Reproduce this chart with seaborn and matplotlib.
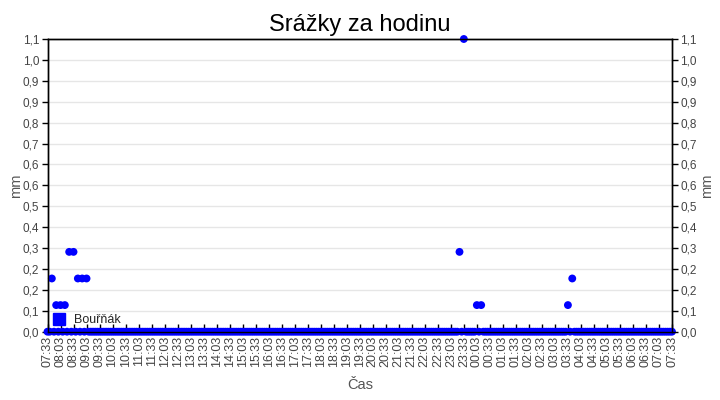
import matplotlib
matplotlib.use("Agg")
import matplotlib.pyplot as plt
from matplotlib.lines import Line2D
import matplotlib.dates as mdates
import numpy as np
import pandas as pd
import seaborn as sns

# ---- data ----
start_time = "2024-01-01 07:33"
end_time = "2024-01-02 07:33"
step = "5min"
series_label = "Bouřňák"
# non-zero readings (mm); every other 5-minute reading is 0.0
rain_times = ["07:43", "07:53", "08:03", "08:13", "08:23", "08:33", "08:43", "08:53", "09:03",
              "23:23", "23:33", "00:03", "00:13", "03:33", "03:43"]
rain_values = [0.2, 0.1, 0.1, 0.1, 0.3, 0.3, 0.2, 0.2, 0.2,
               0.3, 1.1, 0.1, 0.1, 0.1, 0.2]
y_max = 1.1
title = "Srážky za hodinu"
x_label = "Čas"
y_label = "mm"

times = pd.date_range(start_time, end_time, freq=step)
values = pd.Series(0.0, index=times)
for t, v in zip(rain_times, rain_values):
    match = [ts for ts in times if ts.strftime("%H:%M") == t]
    values[match[0]] = v
df = pd.DataFrame({"time": times, "mm": values.values})

sns.set_theme(style="white")
plt.rcParams["font.family"] = ["Liberation Sans", "DejaVu Sans"]

fig = plt.figure(figsize=(7.2, 4.0), dpi=100)
ax = fig.add_axes([47.5 / 720, 1 - 331.7 / 400, (672 - 47.5) / 720, (331.7 - 39) / 400])

sns.scatterplot(data=df, x="time", y="mm", ax=ax, color="#0000FF", s=32,
                edgecolor="none", linewidth=0, clip_on=False, zorder=5)

ax.set_xlim(times[0], times[-1])
ax.set_ylim(0, y_max)
yt = np.linspace(0, y_max, 15)
ylabels = [f"{v:.1f}".replace(".", ",") for v in yt]
ax.set_yticks(yt)
ax.set_yticklabels(ylabels)
ax.yaxis.grid(True, color="#e6e6e6", linewidth=1)
ax.xaxis.grid(False)

ax.set_xticks(pd.date_range(start_time, end_time, freq="30min"))
ax.xaxis.set_major_formatter(mdates.DateFormatter("%H:%M"))
for lab in ax.get_xticklabels():
    lab.set_rotation(90)

ax.tick_params(axis="x", direction="in", length=6, width=1, color="black",
               labelsize=9, labelcolor="#444444", pad=3, bottom=True)
ax.tick_params(axis="y", direction="out", length=4, width=1, color="black",
               labelsize=8.5, labelcolor="#444444", pad=2, left=True)
for sp in ax.spines.values():
    sp.set_color("black")
    sp.set_linewidth(1)

ax.set_xlabel(x_label, fontsize=10.5, color="#555555", labelpad=8)
ax.set_ylabel(y_label, fontsize=10.5, color="#555555", labelpad=0)
ax.set_title(title, fontsize=17, color="black", pad=6)

ax2 = ax.twinx()
ax2.set_ylim(0, y_max)
ax2.set_yticks(yt)
ax2.set_yticklabels(ylabels)
ax2.tick_params(axis="y", direction="out", length=4, width=1, color="black",
                labelsize=8.5, labelcolor="#444444", pad=2, right=True)
ax2.set_ylabel(y_label, fontsize=10.5, color="#555555", labelpad=2)
ax2.grid(False)
for sp in ax2.spines.values():
    sp.set_color("black")
    sp.set_linewidth(1)

handle = Line2D([], [], marker="s", color="#0000FF", linestyle="none", markersize=9)
ax.legend([handle], [series_label], loc="lower left", bbox_to_anchor=(-0.008, -0.012),
          frameon=False, fontsize=9, handletextpad=0.6, borderaxespad=0.3,
          handlelength=1.2)

fig.savefig("out.png", dpi=100)
